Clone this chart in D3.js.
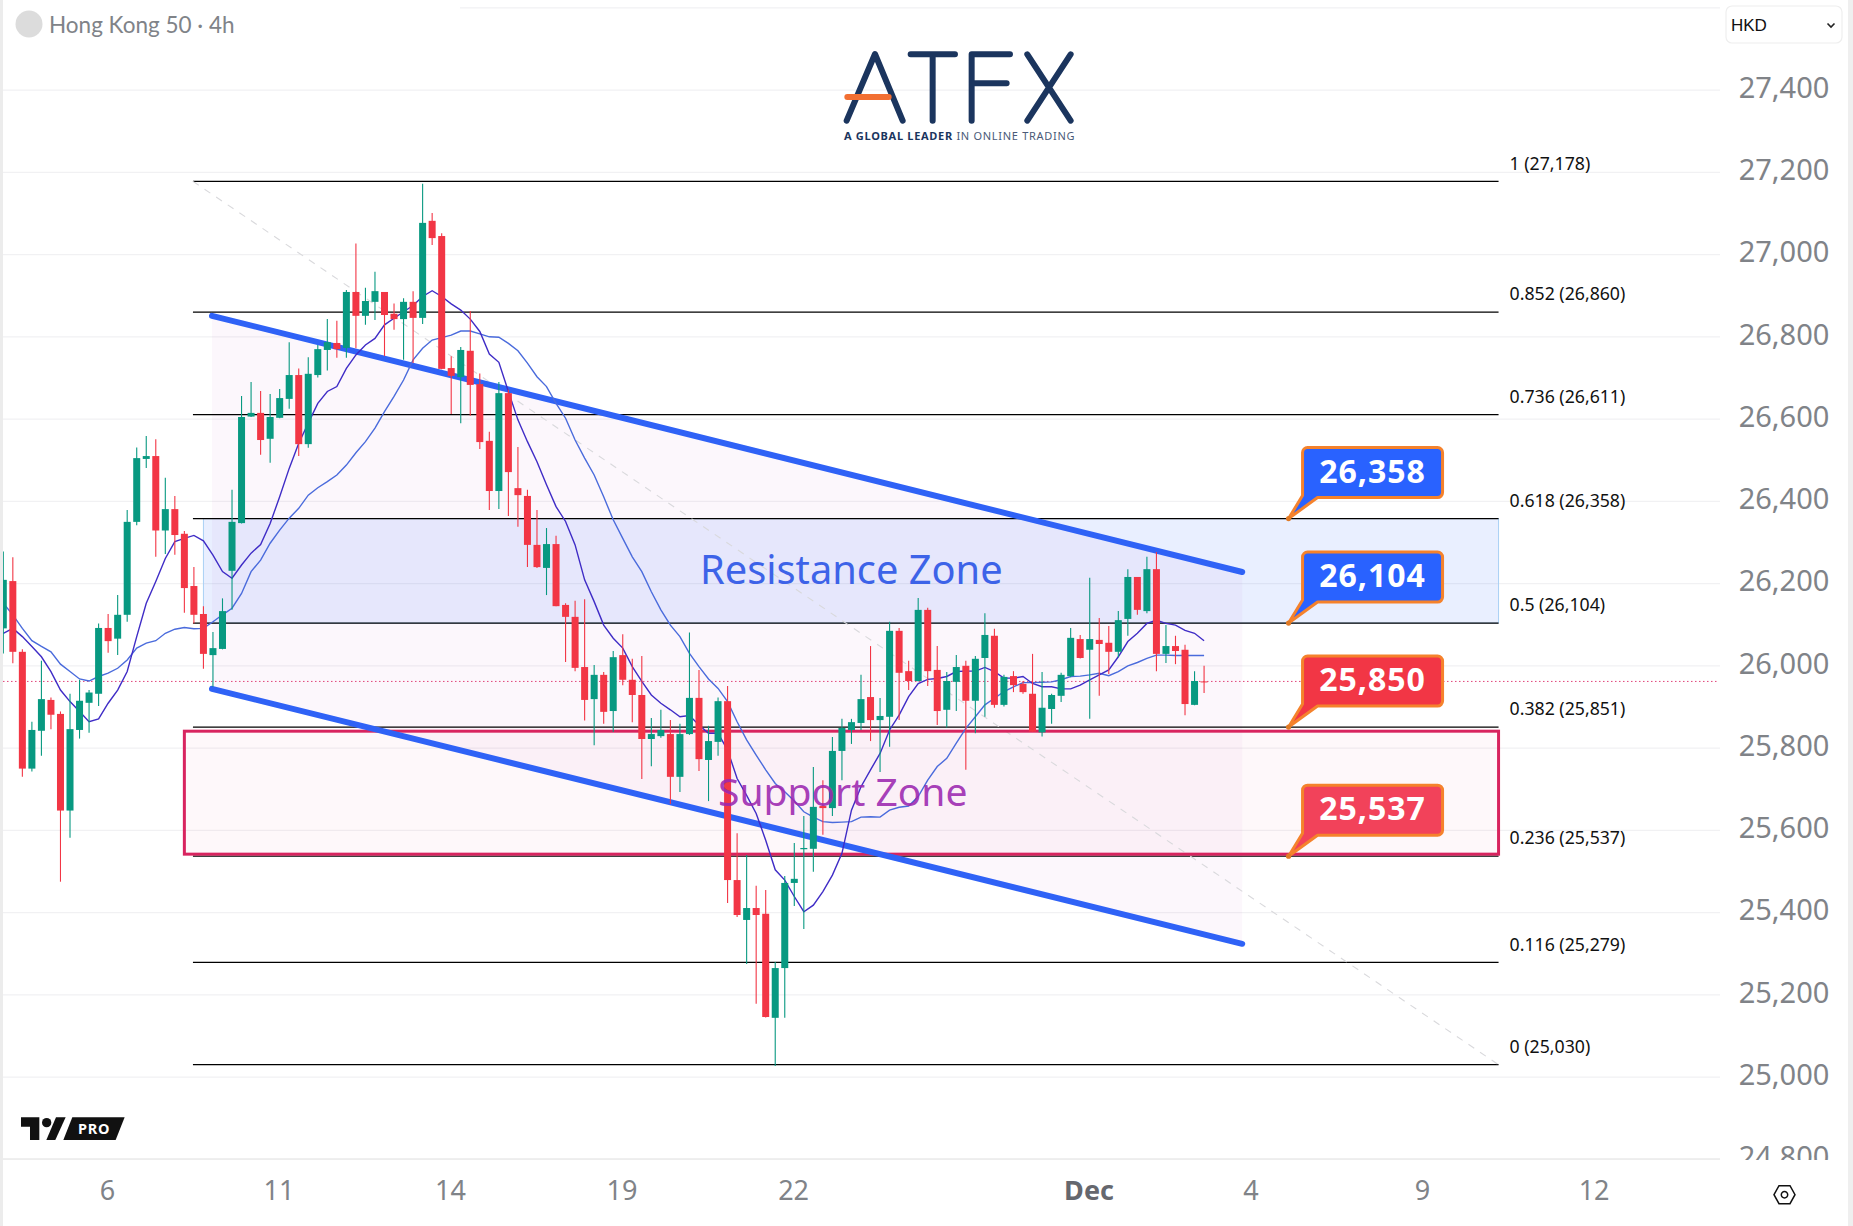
<!DOCTYPE html>
<html>
<head>
<meta charset="utf-8">
<title>Hong Kong 50 4h</title>
<script src="https://cdn.jsdelivr.net/npm/d3@7"></script>
<style>
  html, body { margin: 0; padding: 0; background: #fff; }
  svg { display: block; }
  text { font-family: "Noto Sans", sans-serif; }
</style>
</head>
<body>
<div id="chart"></div>
<script>
// Candles, one value per 4h bar
const opens = [
  26091,26206,26034,25750,25842,25917,25883,25648,25844,25910,
  25932,26092,26066,26124,26350,26503,26510,26329,26381,26321,
  26194,26126,26026,26041,26231,26347,26606,26615,26552,26603,
  26649,26707,26539,26707,26768,26785,26773,26909,26851,26885,
  26909,26856,26843,26885,26846,27082,27045,26724,26702,26766,
  26685,26547,26425,26663,26432,26413,26294,26238,26296,26148,
  26119,25997,25919,25978,25890,26026,25966,25929,25822,25829,
  25834,25730,25834,25922,25771,25815,25914,25479,25382,25411,
  25397,25144,25265,25472,25554,25555,25659,25654,25793,25844,
  25861,25924,25868,25876,26085,25987,25963,26136,25990,25893,
  25961,26000,25915,26019,26073,25905,25975,25956,25932,25838,
  25895,25927,25975,26065,26039,26063,26056,26034,26114,26216,
  26133,26235,26029,26048,26039,25905,25962
];
const highs = [
  26278,26264,26040,25864,26012,25923,25889,25932,25966,25941,
  26103,26126,26172,26379,26531,26559,26551,26457,26413,26328,
  26240,26145,26082,26164,26428,26656,26690,26668,26661,26673,
  26787,26723,26750,26780,26843,26839,26914,27027,26919,26958,
  26909,26881,26894,26911,27172,27101,27052,26753,26775,26863,
  26711,26569,26690,26671,26532,26428,26379,26335,26316,26152,
  26158,26162,26002,25985,26036,26077,26017,26024,25873,25893,
  25868,25859,26081,25990,25854,25923,25951,25593,25540,25465,
  25455,25280,25489,25569,25635,25754,25722,25827,25871,25871,
  25978,26048,25922,26107,26092,26012,26165,26141,26048,25985,
  26026,26012,26024,26128,26090,25978,25987,25963,26029,25985,
  25932,25983,26092,26075,26214,26116,26097,26133,26235,26216,
  26265,26277,26099,26073,26051,25987,26000
];
const lows = [
  26030,26006,25730,25743,25781,25846,25475,25582,25823,25837,
  25902,26032,26026,26107,26342,26481,26265,26272,26270,26129,
  26103,25993,25949,26040,26136,26346,26605,26513,26494,26602,
  26625,26510,26530,26701,26718,26749,26749,26772,26829,26841,
  26753,26817,26744,26736,26831,27023,26721,26612,26590,26608,
  26527,26379,26381,26364,26338,26240,26238,26172,26145,26009,
  25987,25867,25807,25859,25839,25953,25863,25725,25756,25825,
  25664,25693,25832,25744,25671,25781,25423,25389,25275,25178,
  25145,25027,25144,25416,25360,25499,25589,25635,25722,25810,
  25844,25817,25742,25803,25868,25941,25962,25951,25856,25850,
  25890,25747,25836,25876,25898,25901,25936,25932,25839,25828,
  25859,25912,25972,26018,25871,25927,25980,26021,26073,26124,
  26128,25987,26007,26004,25880,25904,25934
];
const closes = [
  26209,26034,25750,25844,25919,25881,25648,25846,25915,25935,
  26092,26060,26124,26350,26505,26510,26329,26381,26318,26189,
  26124,26029,26043,26133,26350,26605,26615,26549,26605,26651,
  26707,26539,26710,26770,26787,26770,26909,26851,26887,26911,
  26853,26843,26885,26846,27077,27040,26722,26705,26768,26683,
  26544,26425,26663,26471,26415,26294,26240,26296,26145,26119,
  25995,25917,25978,25888,26021,25966,25929,25822,25834,25844,
  25730,25834,25922,25773,25817,25914,25479,25394,25411,25394,
  25146,25265,25472,25482,25557,25657,25654,25793,25849,25863,
  25919,25868,25878,26085,25983,25963,26136,25987,25890,25963,
  25997,25915,26017,26075,25905,25973,25953,25936,25840,25898,
  25929,25978,26068,26019,26065,26053,26034,26111,26216,26136,
  26235,26029,26048,26036,25907,25963,25961
];

// The two moving averages
const maFast = [
  26079,26091,26071,26047,26022,25986,25941,25913,25889,25864,
  25871,25909,25941,25986,26071,26152,26205,26261,26302,26310,
  26317,26304,26269,26229,26213,26245,26274,26295,26346,26411,
  26480,26541,26590,26638,26667,26679,26723,26756,26780,26796,
  26829,26845,26861,26876,26898,26912,26898,26880,26865,26843,
  26813,26758,26738,26667,26598,26545,26496,26440,26387,26351,
  26294,26209,26156,26099,26067,26043,25998,25962,25929,25909,
  25893,25876,25879,25856,25836,25836,25795,25726,25685,25641,
  25576,25504,25479,25439,25402,25418,25451,25491,25544,25649,
  25706,25747,25787,25844,25880,25925,25957,25967,25969,25974,
  25986,25987,25987,25996,25986,25970,25970,25974,25957,25949,
  25949,25944,25944,25953,25966,25978,25990,26022,26059,26079,
  26103,26111,26103,26099,26086,26079,26061
];
const maSlow = [
  26152,26124,26091,26061,26047,26034,26004,25986,25968,25963,
  25974,25982,25994,26014,26043,26055,26061,26079,26089,26093,
  26090,26091,26107,26124,26140,26176,26229,26257,26298,26330,
  26359,26383,26415,26433,26448,26464,26488,26518,26545,26578,
  26618,26655,26695,26744,26772,26792,26798,26804,26814,26814,
  26807,26800,26799,26784,26766,26736,26703,26679,26638,26602,
  26549,26505,26464,26411,26355,26310,26265,26229,26180,26136,
  26099,26071,26030,25998,25968,25945,25913,25864,25820,25783,
  25747,25714,25694,25671,25645,25632,25621,25619,25620,25621,
  25632,25633,25632,25649,25656,25659,25682,25722,25755,25775,
  25812,25848,25876,25905,25921,25937,25949,25959,25959,25960,
  25961,25966,25974,25975,25978,25982,25976,25986,26000,26008,
  26018,26026,26026,26025,26025,26025,26025
];

// Axes
const priceTicks = [24800,25000,25200,25400,25600,25800,26000,26200,26400,26600,26800,27000,27200,27400];
const topGridPrice = 27600;
const timeTickBars = [11,29,47,65,83,114,131,149,167];
const timeTickLabels = ['6','11','14','19','22','Dec','4','9','12'];
const lastPrice = 25962;

// Fibonacci retracement levels
const fibRatios = ['1','0.852','0.736','0.618','0.5','0.382','0.236','0.116','0'];
const fibPrices = [27178,26860,26611,26358,26104,25851,25537,25279,25030];
const fibStartBar = 19.9, fibEndBar = 156.9;

// Zones and channel, as bar index and price
const resistanceBand = [26358, 26104];
const resistanceBars = [21, 156.9];
const supportBand = [25841, 25542];
const supportBars = [19, 156.9];
const channelBars = [21.9, 130];
const channelTop = [26851, 26228];
const channelBottom = [25944, 25324];

// Price callouts
const calloutPrices = [26358, 26104, 25850, 25537];
const calloutAnchors = [26358, 26104, 25851, 25537];
const calloutFills = ['#2962ff', '#2962ff', '#f23645', '#f2425a'];

const W = 1853, H = 1226;
const plotRight = 1720, plotBottom = 1159;

const x = d3.scaleLinear().domain([0, 126]).range([3.3, 3.3 + 126 * 9.53]);
const y = d3.scaleLinear().domain([25000, 27400]).range([1077.05, 90.05]);

const svg = d3.select('#chart').append('svg')
  .attr('width', W)
  .attr('height', H)
  .attr('viewBox', `0 0 ${W} ${H}`);

// Grid
const gridColor = '#f1f1f3';
svg.append('g').selectAll('line')
  .data(priceTicks)
  .enter().append('line')
  .attr('x1', 3).attr('x2', plotRight)
  .attr('y1', d => y(d)).attr('y2', d => y(d))
  .attr('stroke', gridColor).attr('stroke-width', 1.3);
svg.append('line')
  .attr('x1', 460).attr('x2', plotRight)
  .attr('y1', y(topGridPrice)).attr('y2', y(topGridPrice))
  .attr('stroke', gridColor).attr('stroke-width', 1.3);

// Channel fill, under the zones
svg.append('path')
  .attr('d', d3.line()([
    [x(channelBars[0]), y(channelTop[0])],
    [x(channelBars[1]), y(channelTop[1])],
    [x(channelBars[1]), y(channelBottom[1])],
    [x(channelBars[0]), y(channelBottom[0])]
  ]) + 'Z')
  .attr('fill', 'rgba(170,60,190,0.04)');

// Resistance zone
svg.append('rect')
  .attr('x', x(resistanceBars[0]))
  .attr('y', y(resistanceBand[0]))
  .attr('width', x(resistanceBars[1]) - x(resistanceBars[0]))
  .attr('height', y(resistanceBand[1]) - y(resistanceBand[0]))
  .attr('fill', 'rgba(41,98,255,0.10)')
  .attr('stroke', '#a9d0f5').attr('stroke-width', 1);

// Support zone
svg.append('rect')
  .attr('x', x(supportBars[0]))
  .attr('y', y(supportBand[0]))
  .attr('width', x(supportBars[1]) - x(supportBars[0]))
  .attr('height', y(supportBand[1]) - y(supportBand[0]))
  .attr('fill', 'rgba(233,30,99,0.03)');

// Fib levels
svg.append('g').selectAll('line')
  .data(fibPrices)
  .enter().append('line')
  .attr('x1', x(fibStartBar)).attr('x2', x(fibEndBar))
  .attr('y1', d => y(d)).attr('y2', d => y(d))
  .attr('stroke', '#000').attr('stroke-width', 1.2);

svg.append('g').selectAll('text')
  .data(fibPrices)
  .enter().append('text')
  .attr('x', x(fibEndBar) + 11)
  .attr('y', d => y(d) - 18)
  .attr('dy', '0.35em')
  .attr('font-size', 17.7)
  .attr('fill', '#111')
  .text((d, i) => `${fibRatios[i]} (${d3.format(',')(d)})`);

// Fib trend line
svg.append('line')
  .attr('x1', x(fibStartBar)).attr('y1', y(fibPrices[0]))
  .attr('x2', x(fibEndBar)).attr('y2', y(fibPrices[8]))
  .attr('stroke', '#d9d9dc').attr('stroke-width', 1.1)
  .attr('stroke-dasharray', '7 7');

// Support outline over the fib lines
svg.append('rect')
  .attr('x', x(supportBars[0]))
  .attr('y', y(supportBand[0]))
  .attr('width', x(supportBars[1]) - x(supportBars[0]))
  .attr('height', y(supportBand[1]) - y(supportBand[0]))
  .attr('fill', 'none')
  .attr('stroke', '#d8245f').attr('stroke-width', 3);

// Channel lines
[channelTop, channelBottom].forEach(edge => {
  svg.append('line')
    .attr('x1', x(channelBars[0])).attr('y1', y(edge[0]))
    .attr('x2', x(channelBars[1])).attr('y2', y(edge[1]))
    .attr('stroke', '#2f62f6').attr('stroke-width', 6)
    .attr('stroke-linecap', 'round');
});

// Last price line
svg.append('line')
  .attr('x1', 3).attr('x2', plotRight - 2)
  .attr('y1', y(lastPrice)).attr('y2', y(lastPrice))
  .attr('stroke', '#e0447a').attr('stroke-width', 1)
  .attr('stroke-dasharray', '1.5 2.5');

// Moving averages
const maLine = d3.line().x((d, i) => x(i)).y(d => y(d));
svg.append('path').attr('d', maLine(maSlow))
  .attr('fill', 'none').attr('stroke', '#4a6bdc').attr('stroke-width', 1.4);
svg.append('path').attr('d', maLine(maFast))
  .attr('fill', 'none').attr('stroke', '#3f2cc6').attr('stroke-width', 1.4);

// Candles
const upColor = '#089981', downColor = '#f23645';
const candleColor = i => closes[i] >= opens[i] ? upColor : downColor;
const candles = svg.append('g').selectAll('g')
  .data(opens)
  .enter().append('g');

candles.append('line')
  .attr('x1', (d, i) => x(i)).attr('x2', (d, i) => x(i))
  .attr('y1', (d, i) => y(highs[i])).attr('y2', (d, i) => y(lows[i]))
  .attr('stroke', (d, i) => candleColor(i)).attr('stroke-width', 1.1);

candles.append('rect')
  .attr('x', (d, i) => x(i) - 3.5)
  .attr('width', 7)
  .attr('y', (d, i) => y(Math.max(opens[i], closes[i])))
  .attr('height', (d, i) => Math.max(1, Math.abs(y(opens[i]) - y(closes[i]))))
  .attr('fill', (d, i) => candleColor(i));

// Zone labels
svg.append('text')
  .attr('x', x(73.1)).attr('y', y(26198))
  .attr('font-size', 39.8).attr('fill', '#3d63e8')
  .text('Resistance Zone');
svg.append('text')
  .attr('x', x(75)).attr('y', y(25659))
  .attr('font-size', 39).attr('fill', 'rgba(156,39,176,0.9)')
  .text('Support Zone');

// Callouts
calloutPrices.forEach((price, i) => {
  const ax = x(fibEndBar) - 210, ay = y(calloutAnchors[i]);
  const left = ax + 14, right = ax + 154, top = ay - 71, bottom = ay - 21, r = 5;
  const p = d3.path();
  p.moveTo(left + r, top);
  p.arcTo(right, top, right, top + r, r);
  p.arcTo(right, bottom, right - r, bottom, r);
  p.lineTo(left + 15, bottom);
  p.lineTo(ax, ay);
  p.lineTo(left, bottom - 2);
  p.arcTo(left, top, left + r, top, r);
  p.closePath();
  svg.append('path').attr('d', p.toString())
    .attr('fill', calloutFills[i])
    .attr('stroke', '#f5822c').attr('stroke-width', 3)
    .attr('stroke-linejoin', 'round');
  svg.append('circle').attr('cx', ax).attr('cy', ay).attr('r', 2.6).attr('fill', '#e07a25');
  svg.append('text')
    .attr('x', (left + right) / 2).attr('y', (top + bottom) / 2 - 1)
    .attr('dy', '0.35em').attr('text-anchor', 'middle')
    .attr('font-size', 32).attr('font-weight', 700).attr('fill', '#fff')
    .attr('letter-spacing', 1)
    .text(d3.format(',')(price));
});

// Price axis
const yAxis = d3.axisRight(y)
  .tickValues(priceTicks)
  .tickSize(0)
  .tickPadding(0)
  .tickFormat(d3.format(','));
svg.append('clipPath').attr('id', 'axis-clip')
  .append('rect').attr('x', -100).attr('y', 0).attr('width', 200).attr('height', plotBottom + 1);
const yAxisG = svg.append('g')
  .attr('transform', `translate(1784,0)`)
  .attr('clip-path', 'url(#axis-clip)')
  .call(yAxis);
yAxisG.select('.domain').remove();
yAxisG.selectAll('text')
  .attr('text-anchor', 'middle')
  .attr('dy', '0.25em')
  .attr('font-size', 29)
  .attr('font-family', '"Noto Sans", sans-serif')
  .attr('fill', '#808388');

// Time axis
const xAxis = d3.axisBottom(x)
  .tickValues(timeTickBars)
  .tickSize(0)
  .tickPadding(0)
  .tickFormat((d, i) => timeTickLabels[i]);
const xAxisG = svg.append('g')
  .attr('transform', `translate(-1.2,${plotBottom})`)
  .call(xAxis);
xAxisG.select('.domain').remove();
xAxisG.selectAll('text')
  .attr('y', 32)
  .attr('dy', '0.35em')
  .attr('font-size', 27)
  .attr('font-family', '"Noto Sans", sans-serif')
  .attr('font-weight', d => d === 114 ? 700 : 400)
  .attr('fill', d => d === 114 ? '#65676e' : '#808388');

svg.append('line')
  .attr('x1', 3).attr('x2', plotRight)
  .attr('y1', plotBottom).attr('y2', plotBottom)
  .attr('stroke', '#ebebeb').attr('stroke-width', 1.5);

// Page edges
svg.append('rect').attr('x', 0).attr('y', 0).attr('width', 3).attr('height', H).attr('fill', '#ececec');
svg.append('rect').attr('x', W - 5).attr('y', 0).attr('width', 5).attr('height', H).attr('fill', '#efefef');

// Header
svg.append('circle').attr('cx', 29).attr('cy', 24).attr('r', 13.5).attr('fill', '#dcdcdc');
svg.append('text')
  .attr('x', 49).attr('y', 33)
  .attr('font-size', 22.5).attr('fill', '#808388')
  .style('font-family', 'Lato, sans-serif')
  .text('Hong Kong 50 · 4h');

// Currency box
svg.append('rect')
  .attr('x', 1726).attr('y', 6).attr('width', 116).attr('height', 37).attr('rx', 6)
  .attr('fill', '#fff').attr('stroke', '#eeeeee').attr('stroke-width', 1.2);
svg.append('text')
  .attr('x', 1731).attr('y', 31)
  .attr('font-size', 17).attr('fill', '#111')
  .style('font-family', '"Liberation Sans", sans-serif')
  .text('HKD');
svg.append('path')
  .attr('d', 'M1827.5 23.5l3.5 3.5 3.5-3.5')
  .attr('fill', 'none').attr('stroke', '#222').attr('stroke-width', 1.6);

// ATFX logo
const logo = svg.append('g')
  .attr('transform', 'translate(800,30) scale(0.3333)')
  .attr('fill', 'none').attr('stroke-linecap', 'round').attr('stroke-linejoin', 'round');
logo.append('path')
  .attr('d', 'M140 272L225 72L308 272M332 73H465M398 73V272M515 272V73H630M515 160H620M682 73L812 272M812 73L682 272')
  .attr('stroke', '#1b355e').attr('stroke-width', 18);
logo.append('path').attr('d', 'M142 201H266').attr('stroke', '#f26f32').attr('stroke-width', 18);
const tagline = svg.append('text')
  .attr('x', 844).attr('y', 140)
  .attr('font-size', 11).attr('letter-spacing', 0.7).attr('fill', '#4a5a78');
tagline.append('tspan').attr('font-weight', 700).attr('fill', '#1b355e').text('A GLOBAL LEADER ');
tagline.append('tspan').text('IN ONLINE TRADING');

// TradingView PRO badge
const badge = svg.append('g').attr('transform', 'translate(0,1090) scale(0.3333)').attr('fill', '#111');
badge.append('path').attr('d', 'M63 82H118V150H90V110H63Z');
badge.append('circle').attr('cx', 140).attr('cy', 98).attr('r', 14);
badge.append('path').attr('d', 'M168 82H197L166 150H139Z');
badge.append('path').attr('d', 'M217 82H374L347 150H190Z');
svg.append('text')
  .attr('x', 78).attr('y', 1133.5)
  .attr('font-size', 14.5).attr('font-weight', 700).attr('letter-spacing', 0.8).attr('fill', '#fff')
  .text('PRO');

// Settings icon
const gear = svg.append('g').attr('transform', 'translate(1784.5,1194.7)')
  .attr('fill', 'none').attr('stroke', '#111').attr('stroke-width', 1.5);
gear.append('path').attr('d', 'M-10.5 0L-5.5 -9H5.5L10.5 0L5.5 9H-5.5Z');
gear.append('circle').attr('r', 3.2);
</script>
</body>
</html>
